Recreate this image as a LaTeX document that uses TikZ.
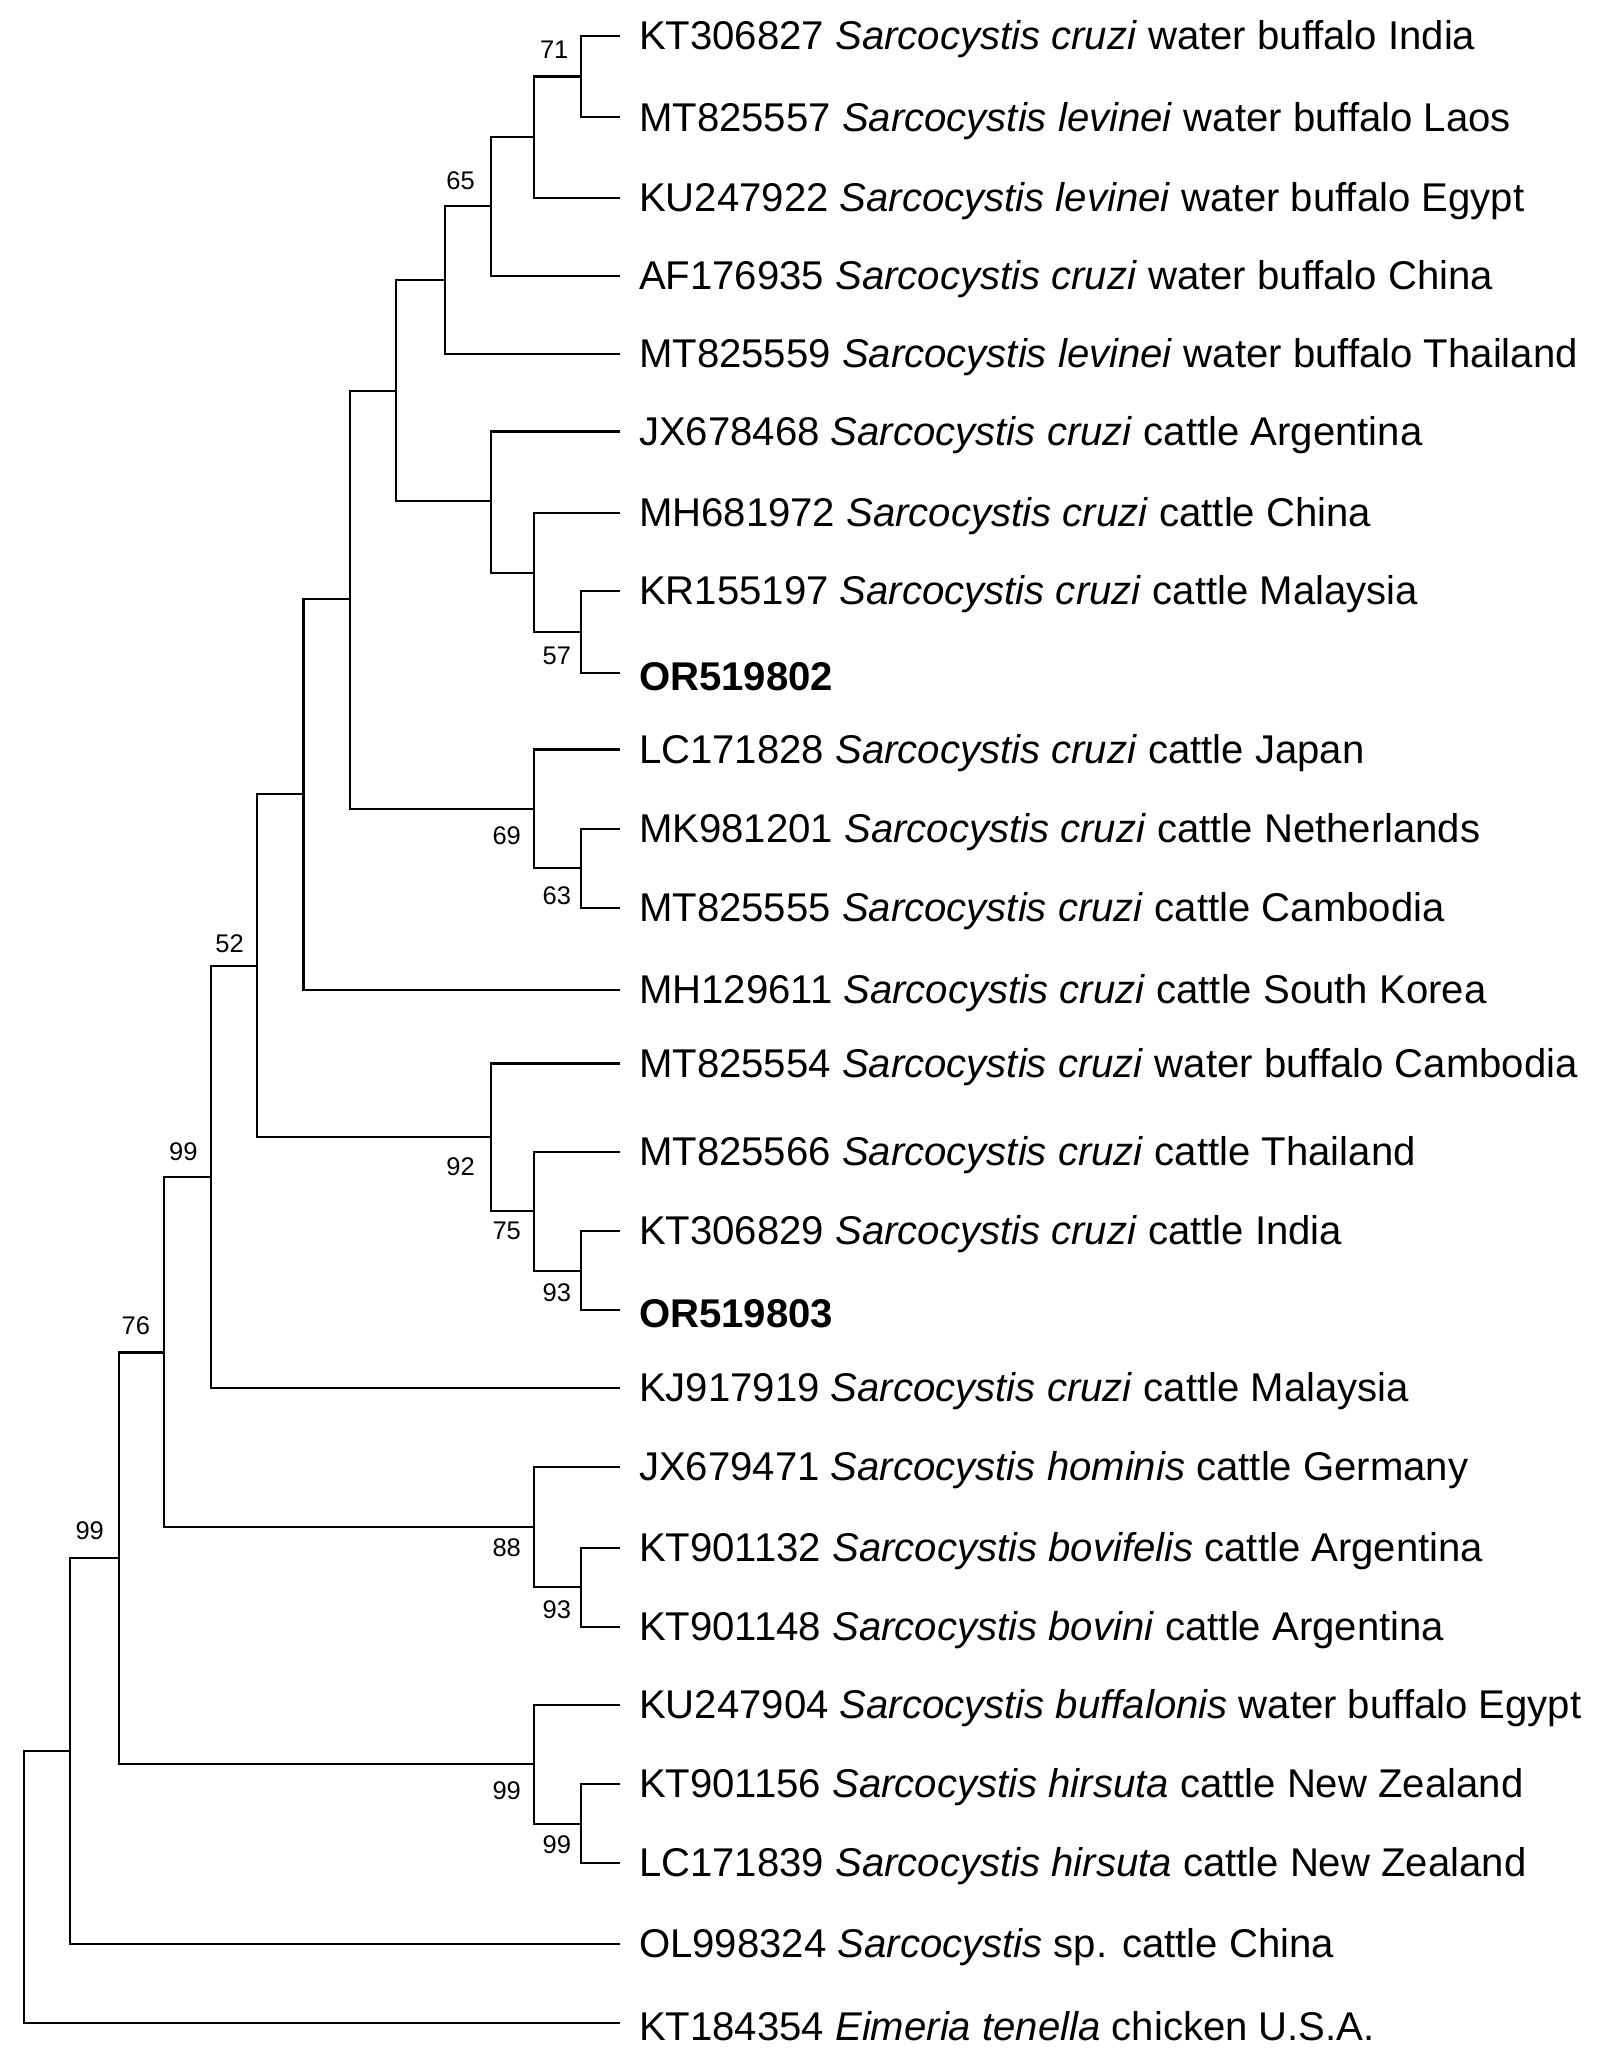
\documentclass[tikz,border=0pt]{standalone}
\usepackage{fontspec}
\setmainfont{Liberation Sans}
\begin{document}
\begin{tikzpicture}[x=0.02cm,y=-0.02cm,
  br/.style={draw,line width=0.9pt},
  lab/.style={anchor=west,inner sep=0pt,yshift=-0.05cm,font=\fontsize{17.3}{20}\selectfont},
  bs/.style={inner sep=0pt,font=\fontsize{11}{13}\selectfont}]
\useasboundingbox (0,0) rectangle (1220,1568);
% leaves
\foreach \n/\y in {1/27,2/89,3/150,4/209,5/268,6/327,7/389,8/448,9/510,10/568,11/628,12/688,13/750,14/806,15/873,16/933,17/993,18/1052,19/1112,20/1173,21/1233,22/1292,23/1352,24/1412,25/1473,26/1533}
  \coordinate (l\n) at (470,\y);
\node[lab] (t1) at (484,27) {KT306827 \textit{Sarcocystis cruzi} water buffalo India};
\node[lab] (t2) at (484,89) {MT825557 \textit{Sarcocystis levinei} water buffalo Laos};
\node[lab] (t3) at (484,150) {KU247922 \textit{Sarcocystis levinei} water buffalo Egypt};
\node[lab] (t4) at (484,209) {AF176935 \textit{Sarcocystis cruzi} water buffalo China};
\node[lab] (t5) at (484,268) {MT825559 \textit{Sarcocystis levinei} water buffalo Thailand};
\node[lab] (t6) at (484,327) {JX678468 \textit{Sarcocystis cruzi} cattle Argentina};
\node[lab] (t7) at (484,389) {MH681972 \textit{Sarcocystis cruzi} cattle China};
\node[lab] (t8) at (484,448) {KR155197 \textit{Sarcocystis cruzi} cattle Malaysia};
\node[lab] (t9) at (484,510) {\textbf{OR519802}};
\node[lab] (t10) at (484,568) {LC171828 \textit{Sarcocystis cruzi} cattle Japan};
\node[lab] (t11) at (484,628) {MK981201 \textit{Sarcocystis cruzi} cattle Netherlands};
\node[lab] (t12) at (484,688) {MT825555 \textit{Sarcocystis cruzi} cattle Cambodia};
\node[lab] (t13) at (484,750) {MH129611 \textit{Sarcocystis cruzi} cattle South Korea};
\node[lab] (t14) at (484,806) {MT825554 \textit{Sarcocystis cruzi} water buffalo Cambodia};
\node[lab] (t15) at (484,873) {MT825566 \textit{Sarcocystis cruzi} cattle Thailand};
\node[lab] (t16) at (484,933) {KT306829 \textit{Sarcocystis cruzi} cattle India};
\node[lab] (t17) at (484,993) {\textbf{OR519803}};
\node[lab] (t18) at (484,1052) {KJ917919 \textit{Sarcocystis cruzi} cattle Malaysia};
\node[lab] (t19) at (484,1112) {JX679471 \textit{Sarcocystis hominis} cattle Germany};
\node[lab] (t20) at (484,1173) {KT901132 \textit{Sarcocystis bovifelis} cattle Argentina};
\node[lab] (t21) at (484,1233) {KT901148 \textit{Sarcocystis bovini} cattle Argentina};
\node[lab] (t22) at (484,1292) {KU247904 \textit{Sarcocystis buffalonis} water buffalo Egypt};
\node[lab] (t23) at (484,1352) {KT901156 \textit{Sarcocystis hirsuta} cattle New Zealand};
\node[lab] (t24) at (484,1412) {LC171839 \textit{Sarcocystis hirsuta} cattle New Zealand};
\node[lab] (t25) at (484,1473) {OL998324 \textit{Sarcocystis} sp. cattle China};
\node[lab] (t26) at (484,1533) {KT184354 \textit{Eimeria tenella} chicken U.S.A.};
% internal nodes
\coordinate (A) at (440,58);
\coordinate (B) at (405,104);
\coordinate (C) at (372,156);
\coordinate (D) at (337,212);
\coordinate (F) at (440,479);
\coordinate (E) at (405,434);
\coordinate (G) at (372,380);
\coordinate (H) at (300,296);
\coordinate (I) at (440,658);
\coordinate (J) at (405,613);
\coordinate (K) at (265,454);
\coordinate (L) at (230,602);
\coordinate (M) at (440,963);
\coordinate (N) at (405,918);
\coordinate (O) at (372,862);
\coordinate (P) at (195,732);
\coordinate (Q) at (160,892);
\coordinate (R) at (440,1203);
\coordinate (S) at (405,1157);
\coordinate (T) at (124,1025);
\coordinate (U) at (440,1382);
\coordinate (V) at (405,1337);
\coordinate (W) at (90,1181);
\coordinate (X) at (53,1327);
\coordinate (Z) at (18,1430);
\foreach \p/\a/\b in {A/l1/l2,B/A/l3,C/B/l4,D/C/l5,F/l8/l9,E/l7/F,G/l6/E,H/D/G,I/l11/l12,J/l10/I,K/H/J,L/K/l13,M/l16/l17,N/l15/M,O/l14/N,P/L/O,Q/P/l18,R/l20/l21,S/l19/R,T/Q/S,U/l23/l24,V/l22/U,W/T/V,X/W/l25,Z/X/l26}
  {\draw[br] (\p) |- (\a); \draw[br] (\p) |- (\b);}
% bootstrap labels
\node[bs] (b71) at (420,38) {71};
\node[bs] (b65) at (349,137) {65};
\node[bs] (b57) at (422,497) {57};
\node[bs] (b69) at (384,633) {69};
\node[bs] (b63) at (422,679) {63};
\node[bs] (b52) at (174,715) {52};
\node[bs] (b92) at (349,884) {92};
\node[bs] (b75) at (384,933) {75};
\node[bs] (b93a) at (422,980) {93};
\node[bs] (b99a) at (139,873) {99};
\node[bs] (b76) at (103,1005) {76};
\node[bs] (b88) at (384,1173) {88};
\node[bs] (b93b) at (422,1220) {93};
\node[bs] (b99b) at (68,1160) {99};
\node[bs] (b99c) at (384,1357) {99};
\node[bs] (b99d) at (422,1398) {99};
\end{tikzpicture}
\end{document}
